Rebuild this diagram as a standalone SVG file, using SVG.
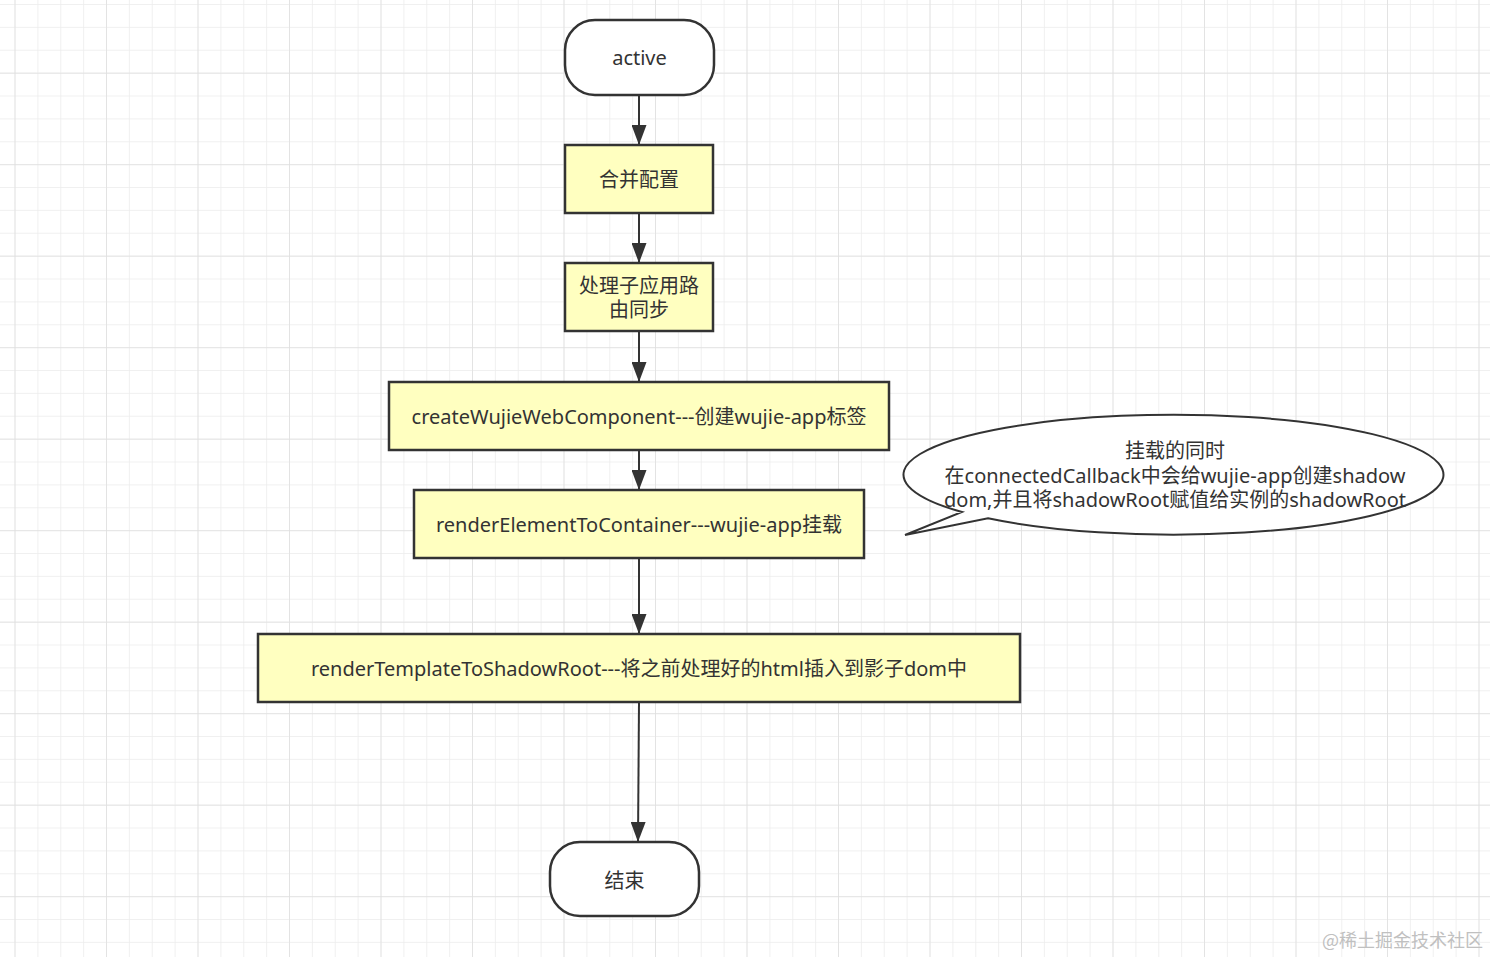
<svg xmlns="http://www.w3.org/2000/svg" width="1490" height="957" viewBox="0 0 1490 957">
<defs>
<pattern id="minor" patternUnits="userSpaceOnUse" x="14.5" y="4" width="22.875" height="22.875">
<path d="M0 0 H22.875 M0 0 V22.875" fill="none" stroke="#ececec" stroke-width="1.5"/>
</pattern>
<pattern id="major" patternUnits="userSpaceOnUse" x="14.5" y="-18.8" width="91.5" height="91.5">
<path d="M0 0 H91.5 M0 0 V91.5" fill="none" stroke="#dfdfdf" stroke-width="1.5"/>
</pattern>
<marker id="arrow" markerUnits="userSpaceOnUse" markerWidth="20" markerHeight="15" refX="20" refY="7.5" orient="auto" viewBox="0 0 20 15">
<path d="M0 0 L20 7.5 L0 15 Z" fill="#333333"/>
</marker>
</defs>
<style>
.box{fill:#ffffc0;stroke:#333333;stroke-width:2.5}
.term{fill:#ffffff;stroke:#333333;stroke-width:2.5}
.lbl{font-family:"Noto Sans","Noto Sans CJK SC",sans-serif;font-size:20px;fill:#333333;text-anchor:middle}
.edge{fill:none;stroke:#333333;stroke-width:2;marker-end:url(#arrow)}
</style>
<rect width="1490" height="957" fill="#ffffff"/>
<rect width="1490" height="957" fill="url(#minor)"/>
<rect width="1490" height="957" fill="url(#major)"/>
<g id="connectors">
<path class="edge" d="M639 95 V145"/>
<path class="edge" d="M639 213 V263"/>
<path class="edge" d="M639 331 V382"/>
<path class="edge" d="M639 450 V490"/>
<path class="edge" d="M639 558 V634"/>
<path class="edge" d="M639 702 L638 842"/>
</g>
<g id="active">
<rect class="term" x="565" y="20" width="149" height="75" rx="30" ry="30"/>
<text class="lbl" x="639.5" y="65">active</text>
</g>
<g id="merge">
<rect class="box" x="565" y="145" width="148" height="68"/>
<text class="lbl" x="639" y="187">合并配置</text>
</g>
<g id="route">
<rect class="box" x="565" y="263" width="148" height="68"/>
<text class="lbl" x="639" y="292.5">处理子应用路</text>
<text class="lbl" x="639" y="317">由同步</text>
</g>
<g id="create">
<rect class="box" x="389" y="382" width="500" height="68"/>
<text class="lbl" x="639" y="424">createWujieWebComponent---创建wujie-app标签</text>
</g>
<g id="renderElement">
<rect class="box" x="414" y="490" width="450" height="68"/>
<text class="lbl" x="639" y="532">renderElementToContainer---wujie-app挂载</text>
</g>
<g id="renderTemplate">
<rect class="box" x="258" y="634" width="762" height="68"/>
<text class="lbl" x="639" y="676">renderTemplateToShadowRoot---将之前处理好的html插入到影子dom中</text>
</g>
<g id="end">
<rect class="term" x="550" y="842" width="149" height="74" rx="30" ry="30"/>
<text class="lbl" x="624.5" y="888">结束</text>
</g>
<g id="callout">
<path d="M962 512 A270 60 0 1 1 988 518.3 L905 535 Z" fill="#ffffff" stroke="#333333" stroke-width="2"/>
<text class="lbl" x="1175" y="457.5">挂载的同时</text>
<text class="lbl" x="1175" y="482.5">在connectedCallback中会给wujie-app创建shadow</text>
<text class="lbl" x="1175" y="507">dom,并且将shadowRoot赋值给实例的shadowRoot</text>
</g>
<text x="1483" y="947" font-family="Noto Sans CJK SC, sans-serif" font-size="18" fill="#c0c0c0" text-anchor="end">@稀土掘金技术社区</text>
</svg>
